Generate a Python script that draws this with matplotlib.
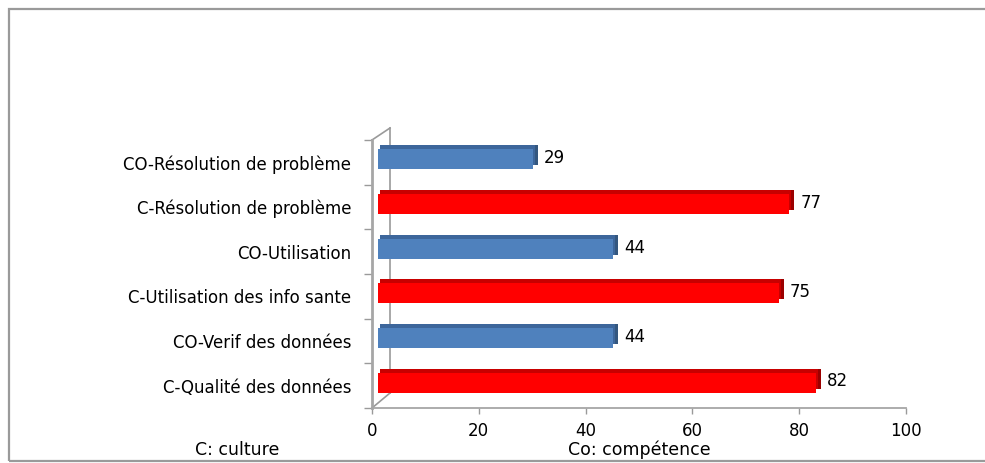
"""
Barres horizontales façon Excel 3D : culture (C) vs compétence (CO)
"""
import matplotlib
matplotlib.use("Agg")
import matplotlib.pyplot as plt
from matplotlib.transforms import ScaledTranslation
from matplotlib.patches import Rectangle

# données (de bas en haut)
categories = [
    "C-Qualité des données",
    "CO-Verif des données",
    "C-Utilisation des info sante",
    "CO-Utilisation",
    "C-Résolution de problème",
    "CO-Résolution de problème",
]
values = [82, 44, 75, 44, 77, 29]
groups = ["C", "CO", "C", "CO", "C", "CO"]
xticks = [0, 20, 40, 60, 80, 100]

colors = {
    "C": {"front": "#ff0000", "top": "#c80000", "side": "#9c0000"},
    "CO": {"front": "#4f81bd", "top": "#3d669b", "side": "#34577f"},
}

DPI = 100


def px(fig, dx, dy):
    return ScaledTranslation(dx / DPI, dy / DPI, fig.dpi_scale_trans)


def main():
    plt.rcParams["font.family"] = ["DejaVu Sans"]
    fig = plt.figure(figsize=(9.85, 4.63), dpi=DPI)
    ax = fig.add_axes([372 / 985, 55 / 463, 534 / 985, 268 / 463])

    ypos = list(range(len(categories)))
    h = 0.45

    # mur gauche en perspective
    wall = ax.transAxes + px(fig, 18, 0)
    ax.plot([0, 0], [0.0 + 15 / 268, 1.0 + 12 / 268], color="#9a9a9a", lw=1.2,
            transform=wall, clip_on=False, zorder=0.5)
    ax.plot([0, 18 / 534], [1.0, 1.0 + 12 / 268], color="#9a9a9a", lw=1.2,
            transform=ax.transAxes, clip_on=False, zorder=0.5)
    ax.plot([0, 18 / 534], [0.0, 15 / 268], color="#9a9a9a", lw=1.2,
            transform=ax.transAxes, clip_on=False, zorder=0.5)

    for y, v, g in zip(ypos, values, groups):
        c = colors[g]
        # face latérale
        ax.barh(y, v, height=h, color=c["side"], edgecolor="none",
                transform=ax.transData + px(fig, 11, 7), zorder=2)
        # dessus
        ax.barh(y, v, height=h, color=c["top"], edgecolor="none",
                transform=ax.transData + px(fig, 8, 7), zorder=2.5)
        # face avant
        ax.barh(y, v, height=h, color=c["front"], edgecolor="none",
                transform=ax.transData + px(fig, 6, 3), zorder=3)
        ax.annotate(str(v), xy=(v, y), xytext=(12.5, 3), textcoords="offset points",
                    ha="left", va="center", fontsize=12, color="#000000")

    ax.set_xlim(0, 100)
    ax.set_ylim(-0.5, len(categories) - 0.5)

    ax.set_xticks(xticks)
    ax.set_xticklabels([str(t) for t in xticks], fontsize=12)
    ax.tick_params(axis="x", length=4, width=1, color="#9a9a9a", pad=6)

    ax.set_yticks(ypos)
    ax.set_yticklabels(categories, fontsize=12)
    ax.tick_params(axis="y", which="major", length=0, pad=15)
    ax.set_yticks([i - 0.5 for i in range(len(categories) + 1)], minor=True)
    ax.tick_params(axis="y", which="minor", length=6, width=1, color="#9a9a9a")

    for s in ["top", "right"]:
        ax.spines[s].set_visible(False)
    ax.spines["left"].set_color("#a6a6a6")
    ax.spines["left"].set_linewidth(2)
    ax.spines["bottom"].set_color("#a6a6a6")
    ax.spines["bottom"].set_linewidth(1.3)

    # légende textuelle en bas
    fig.text(195 / 985, 8 / 463, "C: culture", fontsize=12.5, ha="left", va="baseline")
    fig.text(568 / 985, 8 / 463, "Co: compétence", fontsize=12.5, ha="left", va="baseline")

    # cadre extérieur
    fig.patches.append(Rectangle((9 / 985, 2 / 463), 1.0, 452 / 463, transform=fig.transFigure,
                                 facecolor="none", edgecolor="#9a9a9a", lw=1.6, zorder=11))

    fig.savefig("out.png", dpi=DPI)


if __name__ == "__main__":
    main()
